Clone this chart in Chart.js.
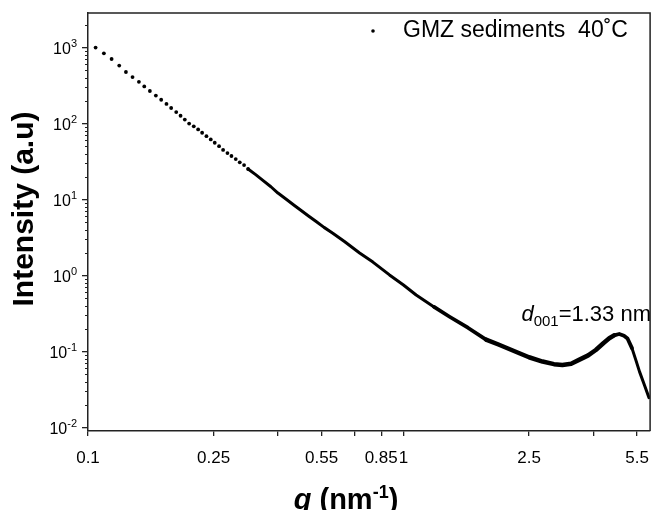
<!DOCTYPE html>
<html>
<head>
<meta charset="utf-8">
<script src="https://cdn.jsdelivr.net/npm/chart.js@4/dist/chart.umd.min.js"></script>
<style>
  html, body { margin: 0; padding: 0; background: #fff; }
  #wrap { width: 652px; height: 510px; }
</style>
</head>
<body>
<div id="wrap"><canvas id="saxsChart" width="652" height="510"></canvas></div>
<script>
// datos (q en nm^-1, intensidad en u.a.)
const qValues = [
  0.1057, 0.1123, 0.1188, 0.1256, 0.1319, 0.1384, 0.1450, 0.1508, 0.1571, 0.1641,
  0.1706, 0.1773, 0.1835, 0.1904, 0.1965, 0.2027, 0.2092, 0.2164, 0.2234, 0.2300,
  0.2374, 0.2450, 0.2522, 0.2603, 0.2681, 0.2767, 0.2849, 0.2940, 0.3027, 0.3124,
  0.3217,
  0.340, 0.360, 0.380, 0.400, 0.425, 0.450, 0.475, 0.500, 0.530, 0.560,
  0.597, 0.650, 0.726, 0.800, 0.903, 1.000, 1.097, 1.250, 1.400, 1.600,
  1.827, 2.000, 2.330, 2.500, 2.760, 3.000, 3.190, 3.400, 3.600, 3.850,
  4.070, 4.300, 4.490, 4.650, 4.830, 5.000, 5.130, 5.300, 5.450, 5.600,
  5.800, 6.000
];
const intensity = [
  1010, 850, 715, 585, 482, 413, 358, 311, 271, 236,
  208, 183, 162, 143, 128, 114, 101, 93, 84.5, 76.5,
  69, 62.5, 56.5, 51, 45.5, 41.3, 37.8, 34.5, 31.2, 28.7,
  25.5,
  21.5, 17.8, 14.9, 12.3, 10.2, 8.5, 7.2, 6.15, 5.15, 4.35,
  3.65, 2.83, 2.0, 1.52, 1.03, 0.76, 0.56, 0.39, 0.29, 0.208,
  0.145, 0.125, 0.096, 0.085, 0.0746, 0.069, 0.0674, 0.070, 0.0785, 0.090,
  0.106, 0.130, 0.151, 0.165, 0.172, 0.163, 0.150, 0.112, 0.0785, 0.055,
  0.037, 0.025
];

const xTickValues = [0.1, 0.25, 0.4, 0.55, 0.7, 0.85, 1, 2.5, 4, 5.5];
const xTickLabels = ["0.1", "0.25", "", "0.55", "", "0.85", "1", "2.5", "", "5.5"];
const yMajorTicks = [0.01, 0.1, 1, 10, 100, 1000];
const yExponents = ["-2", "-1", "0", "1", "2", "3"];
const legendText = "GMZ sediments  40˚C";

const FONT = "'Liberation Sans', Arial, sans-serif";

// ticks menores del eje y (2..9 por decada)
const yMinorTicks = [];
yMajorTicks.forEach(d => {
  for (let k = 2; k <= 9; k++) {
    if (d * k < 2900) yMinorTicks.push(d * k);
  }
});

const points = qValues.map((q, i) => ({ x: q, y: intensity[i] }));

// textos extra: marco, etiquetas 10^n, titulos, leyenda, anotacion
const extrasPlugin = {
  id: "extras",
  afterDraw(chart) {
    const ctx = chart.ctx;
    const a = chart.chartArea;
    const ys = chart.scales.y;
    ctx.save();

    // marco superior y derecho
    ctx.strokeStyle = "#222";
    ctx.lineWidth = 1.5;
    ctx.beginPath();
    ctx.moveTo(a.left, a.top);
    ctx.lineTo(a.right, a.top);
    ctx.lineTo(a.right, a.bottom);
    ctx.stroke();

    // etiquetas del eje y con exponente
    ctx.fillStyle = "#000";
    ctx.textBaseline = "alphabetic";
    ctx.textAlign = "left";
    yMajorTicks.forEach((v, i) => {
      const py = ys.getPixelForValue(v);
      ctx.font = "11px " + FONT;
      const we = ctx.measureText(yExponents[i]).width;
      ctx.font = "16px " + FONT;
      const wb = ctx.measureText("10").width;
      const right = 77;
      ctx.fillText("10", right - we - wb, py + 6);
      ctx.font = "11px " + FONT;
      ctx.fillText(yExponents[i], right - we, py - 1);
    });

    // titulo eje y
    ctx.save();
    ctx.translate(25, 209);
    ctx.rotate(-Math.PI / 2);
    ctx.font = "bold 30px " + FONT;
    ctx.textAlign = "center";
    ctx.textBaseline = "middle";
    ctx.fillText("Intensity (a.u)", 0, 0);
    ctx.restore();

    // titulo eje x: q (nm^-1)
    const parts = [
      { t: "q", f: "italic bold 29px " + FONT, dy: 0 },
      { t: " (nm", f: "bold 29px " + FONT, dy: 0 },
      { t: "-1", f: "bold 18px " + FONT, dy: -11 },
      { t: ")", f: "bold 29px " + FONT, dy: 0 }
    ];
    let total = 0;
    parts.forEach(p => { ctx.font = p.f; p.w = ctx.measureText(p.t).width; total += p.w; });
    let cx = 346 - total / 2;
    const base = 509;
    parts.forEach(p => {
      ctx.font = p.f;
      ctx.fillText(p.t, cx, base + p.dy);
      cx += p.w;
    });

    // leyenda
    ctx.beginPath();
    ctx.arc(373, 31, 1.8, 0, Math.PI * 2);
    ctx.fill();
    ctx.font = "23px " + FONT;
    ctx.fillText(legendText, 403, 37);

    // anotacion d001
    const ann = [
      { t: "d", f: "italic 22px " + FONT, dy: 0 },
      { t: "001", f: "15px " + FONT, dy: 5 },
      { t: "=1.33 nm", f: "22px " + FONT, dy: 0 }
    ];
    let aw = 0;
    ann.forEach(p => { ctx.font = p.f; p.w = ctx.measureText(p.t).width; aw += p.w; });
    let ax = 651 - aw;
    ann.forEach(p => {
      ctx.font = p.f;
      ctx.fillText(p.t, ax, 321 + p.dy);
      ax += p.w;
    });

    ctx.restore();
  }
};

// grosor de la banda de puntos segun q
function bandWidth(q) {
  if (q > 1.8 && q < 4.5) return 4.5;
  if (q > 1.2 && q < 5.2) return 3.8;
  return 3;
}

new Chart(document.getElementById("saxsChart"), {
  type: "scatter",
  data: {
    datasets: [{
      label: legendText,
      data: points,
      showLine: true,
      borderColor: "#000",
      borderWidth: 3,
      borderJoinStyle: "round",
      borderCapStyle: "round",
      pointRadius: ctx => (ctx.raw && ctx.raw.x < 0.33 ? 1.9 : 0),
      pointHoverRadius: 0,
      pointBackgroundColor: "#000",
      pointBorderWidth: 0,
      segment: {
        borderColor: ctx => (ctx.p0.parsed.x < 0.32 ? "rgba(0,0,0,0)" : "#000"),
        borderWidth: ctx => bandWidth(ctx.p0.parsed.x)
      }
    }]
  },
  options: {
    responsive: false,
    animation: false,
    layout: { padding: { top: 13, right: 1, left: 0, bottom: 0 } },
    plugins: {
      legend: { display: false },
      tooltip: { enabled: false }
    },
    scales: {
      x: {
        type: "logarithmic",
        min: 0.1,
        max: 6.05,
        afterBuildTicks: s => { s.ticks = xTickValues.map(v => ({ value: v })); },
        afterFit: s => {
          s.height = 79;
          s.paddingLeft = 0;
          s.paddingRight = 0;
        },
        ticks: {
          autoSkip: false,
          maxRotation: 0,
          color: "#000",
          padding: 12,
          font: { family: FONT, size: 17 },
          callback: (v, i) => xTickLabels[i]
        },
        grid: { drawOnChartArea: false, tickLength: 5, color: "#222", lineWidth: 1.3 },
        border: { display: true, color: "#222", width: 1.5 }
      },
      y: {
        type: "logarithmic",
        position: "left",
        weight: 1,
        min: 0.0091,
        max: 2880,
        afterBuildTicks: s => { s.ticks = yMajorTicks.map(v => ({ value: v })); },
        afterFit: s => { s.width = 88; s.paddingTop = 0; s.paddingBottom = 0; },
        ticks: { display: false },
        grid: { drawOnChartArea: false, tickLength: 6, color: "#222", lineWidth: 1.3 },
        border: { display: true, color: "#222", width: 1.5 }
      },
      yMinor: {
        type: "logarithmic",
        position: "left",
        weight: 0,
        min: 0.0091,
        max: 2880,
        afterBuildTicks: s => { s.ticks = yMinorTicks.map(v => ({ value: v })); },
        afterFit: s => { s.width = 0; s.paddingTop = 0; s.paddingBottom = 0; },
        ticks: { display: false },
        grid: { drawOnChartArea: false, tickLength: 3, color: "#222", lineWidth: 1 },
        border: { display: false }
      }
    }
  },
  plugins: [extrasPlugin]
});
</script>
</body>
</html>
